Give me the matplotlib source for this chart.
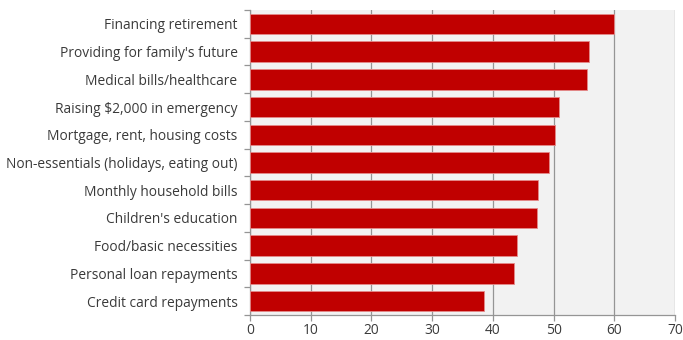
import matplotlib.pyplot as plt
import numpy as np

plt.rcParams['font.family'] = ['Open Sans', 'DejaVu Sans']

categories = [
    "Financing retirement",
    "Providing for family's future",
    "Medical bills/healthcare",
    "Raising $2,000 in emergency",
    "Mortgage, rent, housing costs",
    "Non-essentials (holidays, eating out)",
    "Monthly household bills",
    "Children's education",
    "Food/basic necessities",
    "Personal loan repayments",
    "Credit card repayments",
]
values = [60.0, 55.9, 55.5, 50.9, 50.2, 49.3, 47.4, 47.3, 44.0, 43.4, 38.6]
xticks = [0, 10, 20, 30, 40, 50, 60, 70]

fig = plt.figure(figsize=(6.83, 3.40), dpi=100)
ax = fig.add_axes([250 / 683, 25 / 340, 425 / 683, 305 / 340])
ax.set_facecolor('#f2f2f2')

y = np.arange(len(categories))
ax.barh(y, values, height=0.74, color='#c00000', edgecolor='#e58a8a',
        linewidth=0.6, zorder=3)

ax.set_xlim(0, 70)
ax.set_ylim(len(categories) - 0.5, -0.5)
ax.set_xticks(xticks)
ax.set_xticklabels([str(t) for t in xticks])
ax.set_yticks(y)
ax.set_yticklabels(categories)
ax.set_yticks(np.arange(len(categories) + 1) - 0.5, minor=True)

ax.grid(axis='x', color='#959595', linewidth=0.9, zorder=1)
ax.tick_params(axis='y', which='major', length=0, pad=9, labelsize=9.9,
               labelcolor='#3a3a3a')
ax.tick_params(axis='y', which='minor', length=4, color='#959595', width=0.9)
ax.tick_params(axis='x', length=4, color='#959595', width=0.9, labelsize=9.9,
               labelcolor='#3a3a3a', pad=2)

for side in ['top', 'right']:
    ax.spines[side].set_visible(False)
for side in ['left', 'bottom']:
    ax.spines[side].set_color('#959595')
    ax.spines[side].set_linewidth(0.9)

fig.savefig('out.png', dpi=100)
